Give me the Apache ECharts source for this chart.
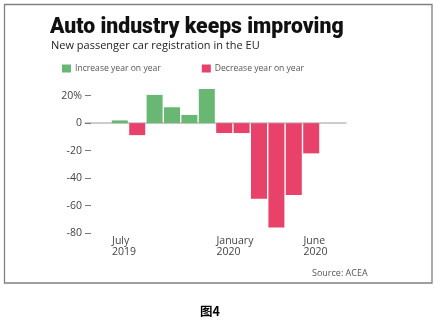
<!DOCTYPE html>
<html>
<head>
<meta charset="utf-8">
<script src="https://cdn.jsdelivr.net/npm/echarts@6/dist/echarts.min.js"></script>
<style>
  html, body { margin: 0; padding: 0; background: #ffffff; }
  #chart { width: 437px; height: 323px; }
</style>
</head>
<body>
<div id="chart"></div>
<script>
// Months shown on the x axis (July 2019 – June 2020)
const months = ['Jul 2019', 'Aug 2019', 'Sep 2019', 'Oct 2019', 'Nov 2019', 'Dec 2019',
                'Jan 2020', 'Feb 2020', 'Mar 2020', 'Apr 2020', 'May 2020', 'Jun 2020'];
// Year-on-year change in new passenger car registrations, %
const changes = [2, -8.7, 20.6, 11.6, 6, 24.9, -7.2, -7.2, -55, -76, -52.3, -22];
// Month labels printed under the axis
const tickLabels = { 'Jul 2019': 'July\n2019', 'Jan 2020': 'January\n2020', 'Jun 2020': 'June\n2020' };
// Y axis ticks
const yTicks = [-80, -60, -40, -20, 0, 20];

const seriesNames = ['Increase year on year', 'Decrease year on year'];
const green = '#68b874';
const red = '#e8416a';

// Bar axis: two empty slots padding each end
const barCats = ['p1', 'p2'].concat(months, ['p3', 'p4']);
// Label axis: band edges line up with the left edge of each bar
const labelCats = ['q1'].concat(months, ['q2', 'q3']);

const incData = barCats.map(c => {
  const i = months.indexOf(c);
  return i >= 0 && changes[i] >= 0 ? changes[i] : '-';
});
const decData = barCats.map(c => {
  const i = months.indexOf(c);
  return i >= 0 && changes[i] < 0 ? changes[i] : '-';
});

const chart = echarts.init(document.getElementById('chart'), null, { renderer: 'canvas' });
const baseFont = '"Open Sans", sans-serif';

chart.setOption({
  backgroundColor: '#ffffff',
  animation: false,
  title: [
    {
      text: 'Auto industry keeps improving',
      left: 50, top: 17, padding: 0,
      textStyle: { fontFamily: 'Roboto, sans-serif', fontWeight: 900, fontSize: 21.2, color: '#111' }
    },
    {
      text: 'New passenger car registration in the EU',
      left: 51, top: 40, padding: 0,
      textStyle: { fontFamily: baseFont, fontWeight: 'normal', fontSize: 11, color: '#222' }
    },
    {
      text: 'Source: ACEA',
      left: 312, top: 269, padding: 0,
      textStyle: { fontFamily: baseFont, fontWeight: 'normal', fontSize: 9, color: '#555' }
    },
    {
      text: '图4',
      left: 200, top: 305, padding: 0,
      textStyle: { fontFamily: '"Noto Sans CJK SC", sans-serif', fontWeight: 'bold', fontSize: 12.5, color: '#000' }
    }
  ],
  graphic: [
    {
      type: 'rect',
      shape: { x: 4.5, y: 4.5, width: 427.5, height: 278.5 },
      style: { fill: 'none', stroke: '#808080', lineWidth: 1.3 },
      silent: true
    }
  ],
  legend: {
    left: 62, top: 64, padding: 0,
    itemWidth: 9, itemHeight: 8, itemGap: 41,
    icon: 'rect',
    data: seriesNames,
    textStyle: { fontFamily: baseFont, fontSize: 8.6, color: '#555', padding: [0, 0, 0, -1] }
  },
  grid: { left: 85, right: 91, top: 95.7, bottom: 323 - 233 },
  xAxis: [
    {
      type: 'category',
      data: barCats,
      boundaryGap: false,
      axisLine: { lineStyle: { color: '#bdbdbd', width: 1.5 } },
      axisTick: { show: false },
      axisLabel: { show: false },
      splitLine: { show: false }
    },
    {
      type: 'category',
      data: labelCats,
      position: 'bottom',
      boundaryGap: true,
      axisLine: { show: false, onZero: false },
      axisTick: { show: false },
      axisLabel: {
        interval: 0,
        align: 'left',
        margin: 2,
        lineHeight: 11.5,
        fontFamily: baseFont,
        fontSize: 10.5,
        color: '#444',
        padding: [0, 0, 0, 1],
        formatter: v => tickLabels[v] || ''
      },
      splitLine: { show: false }
    }
  ],
  yAxis: {
    type: 'value',
    min: yTicks[0],
    max: yTicks[yTicks.length - 1],
    interval: 20,
    axisLine: { show: false },
    axisTick: { show: true, inside: true, length: 6, lineStyle: { color: '#777', width: 1 } },
    splitLine: { show: false },
    axisLabel: {
      margin: 3,
      fontFamily: baseFont,
      fontSize: 10.5,
      color: '#444',
      formatter: v => (v === 20 ? '20%' : String(v))
    }
  },
  series: [
    {
      name: seriesNames[0],
      type: 'bar',
      xAxisIndex: 0,
      stack: 'yoy',
      barWidth: 16,
      clip: false,
      itemStyle: { color: green },
      data: incData
    },
    {
      name: seriesNames[1],
      type: 'bar',
      xAxisIndex: 0,
      stack: 'yoy',
      barWidth: 16,
      clip: false,
      itemStyle: { color: red },
      data: decData
    }
  ]
});
</script>
</body>
</html>
